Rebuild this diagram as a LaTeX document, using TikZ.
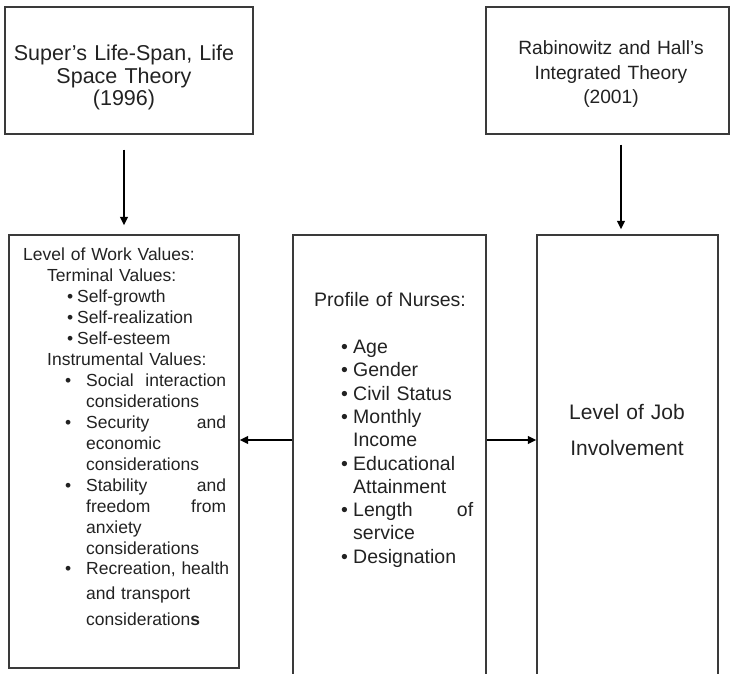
\documentclass[tikz,border=0pt]{standalone}
\usepackage{fontspec}
\setmainfont{Liberation Sans}
\usetikzlibrary{arrows.meta}
\definecolor{boxline}{HTML}{3A3A3A}
\definecolor{ink}{HTML}{222222}
\begin{document}
\begin{tikzpicture}[x=1pt,y=-1pt,
  box/.style={draw=boxline, line width=1.1pt, inner sep=0pt, fill=none},
  arr/.style={draw=black, line width=2.5pt, -{Triangle[length=8.5pt,width=7.5pt]}},
  txt/.style={text=ink, inner sep=0pt, align=left}]
\useasboundingbox (0,0) rectangle (732,674);
\clip (0,0) rectangle (732,674);
% boxes
\node[box, minimum width=248pt, minimum height=127pt] (topL) at (129,70.5) {};
\node[box, minimum width=243pt, minimum height=127pt] (topR) at (607.5,70.5) {};
\node[box, minimum width=230pt, minimum height=433pt] (lowL) at (124,451.5) {};
\node[box, minimum width=193pt, minimum height=465pt] (mid) at (389.5,467.5) {};
\node[box, minimum width=181pt, minimum height=465pt] (lowR) at (627.5,467.5) {};
% texts
\node[txt, align=center, text width=240pt, anchor=base, font=\fontsize{21.5}{22.5}\selectfont] (topLtext) at (124,60.7)
  {Super’s Life-Span, Life\\Space Theory\\(1996)};
\node[txt, align=center, text width=240pt, anchor=base, font=\fontsize{19.2}{24.5}\selectfont] (topRtext) at (611,55)
  {Rabinowitz and Hall’s\\Integrated Theory\\(2001)};
\node[txt, text width=215pt, anchor=base west, font=\fontsize{17.5}{20.93}\selectfont] (lowLtext) at (23,261)
  {Level of Work Values:\\
   \hspace*{24pt}Terminal Values:\\
   \hspace*{44pt}\makebox[10pt][l]{•}Self-growth\\
   \hspace*{44pt}\makebox[10pt][l]{•}Self-realization\\
   \hspace*{44pt}\makebox[10pt][l]{•}Self-esteem\\
   \hspace*{24pt}Instrumental Values:\\
   \hspace*{42pt}\makebox[21pt][l]{•}\hbox to 140pt{Social\hfill interaction}\\
   \hspace*{63pt}considerations\\
   \hspace*{42pt}\makebox[21pt][l]{•}\hbox to 140pt{Security\hfill and}\\
   \hspace*{63pt}economic\\
   \hspace*{63pt}considerations\\
   \hspace*{42pt}\makebox[21pt][l]{•}\hbox to 140pt{Stability\hfill and}\\
   \hspace*{63pt}\hbox to 140pt{freedom\hfill from}\\
   \hspace*{63pt}anxiety\\
   \hspace*{63pt}considerations\\
   \hspace*{42pt}\makebox[21pt][l]{•}Recreation, health\\[4pt]
   \hspace*{63pt}and transport\\[5pt]
   \hspace*{63pt}consideration\textbf{s}};
\node[txt, text width=170pt, anchor=base west, font=\fontsize{19.5}{23.3}\selectfont] (midtext) at (314,307)
  {Profile of Nurses:\\[23.3pt]
   \hspace*{27pt}\makebox[12pt][l]{•}Age\\
   \hspace*{27pt}\makebox[12pt][l]{•}Gender\\
   \hspace*{27pt}\makebox[12pt][l]{•}Civil Status\\
   \hspace*{27pt}\makebox[12pt][l]{•}Monthly\\
   \hspace*{39pt}Income\\
   \hspace*{27pt}\makebox[12pt][l]{•}Educational\\
   \hspace*{39pt}Attainment\\
   \hspace*{27pt}\makebox[12pt][l]{•}\hbox to 120pt{Length\hfill of}\\
   \hspace*{39pt}service\\
   \hspace*{27pt}\makebox[12pt][l]{•}Designation};
\node[txt, align=center, text width=150pt, anchor=base, font=\fontsize{21}{36}\selectfont] (lowRtext) at (627,419.5)
  {Level of Job\\Involvement};
% connectors
\draw[arr, shorten <=15pt, shorten >=9pt] (topL.south -| lowL.north) -- (lowL.north);
\draw[arr, shorten <=10pt, shorten >=5pt] ([xshift=13.5pt]topR.south) -- ([xshift=-6.5pt]lowR.north);
\draw[arr] (mid.west |- 0,440) -- (lowL.east |- 0,440);
\draw[arr] (mid.east |- 0,440) -- (lowR.west |- 0,440);
\end{tikzpicture}
\end{document}
